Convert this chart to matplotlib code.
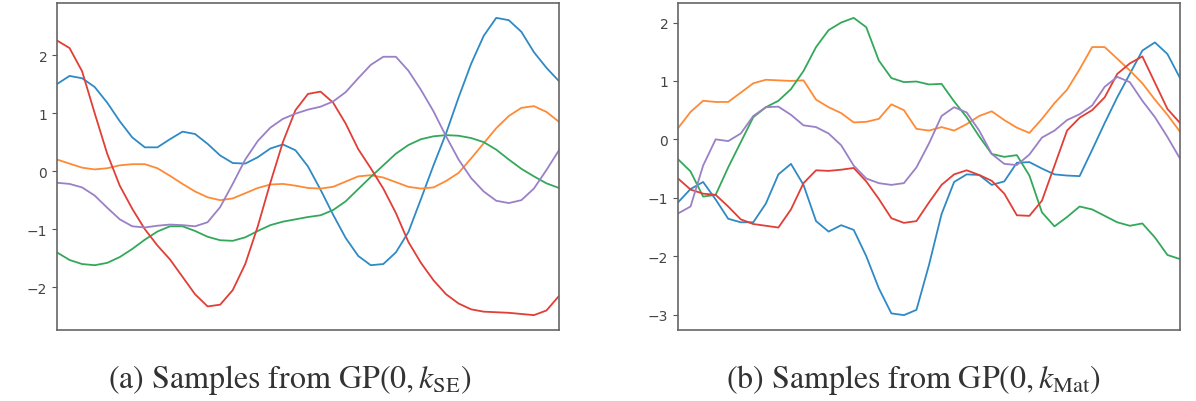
import matplotlib.pyplot as plt
import numpy as np

plt.rcParams['mathtext.fontset'] = 'stix'

# shared horizontal sample positions (no x ticks in the figure)
x = np.arange(0, 100.1, 2.5)

# (a) squared-exponential kernel samples
se_blue = [1.50, 1.64, 1.60, 1.45, 1.18, 0.86, 0.58, 0.41, 0.41, 0.55, 0.68,
           0.64, 0.47, 0.27, 0.14, 0.13, 0.24, 0.39, 0.46, 0.36, 0.08, -0.32,
           -0.75, -1.15, -1.46, -1.62, -1.60, -1.40, -1.05, -0.48, 0.10, 0.65,
           1.27, 1.85, 2.33, 2.64, 2.60, 2.40, 2.05, 1.78, 1.55]
se_orange = [0.20, 0.13, 0.06, 0.03, 0.05, 0.10, 0.12, 0.12, 0.05, -0.08,
             -0.22, -0.35, -0.45, -0.50, -0.47, -0.38, -0.29, -0.23, -0.22,
             -0.25, -0.29, -0.30, -0.27, -0.18, -0.09, -0.07, -0.11, -0.19,
             -0.27, -0.30, -0.28, -0.17, -0.03, 0.22, 0.48, 0.74, 0.95, 1.09,
             1.12, 1.02, 0.85]
se_green = [-1.40, -1.53, -1.60, -1.62, -1.58, -1.48, -1.34, -1.18, -1.04,
            -0.95, -0.95, -1.03, -1.13, -1.19, -1.20, -1.14, -1.03, -0.93,
            -0.87, -0.83, -0.79, -0.76, -0.67, -0.52, -0.31, -0.10, 0.10,
            0.30, 0.45, 0.55, 0.60, 0.62, 0.61, 0.57, 0.50, 0.37, 0.20, 0.04,
            -0.09, -0.21, -0.29]
se_red = [2.25, 2.12, 1.72, 1.00, 0.30, -0.25, -0.65, -1.00, -1.28, -1.52,
          -1.82, -2.12, -2.33, -2.30, -2.05, -1.60, -0.95, -0.20, 0.50, 1.05,
          1.33, 1.37, 1.18, 0.82, 0.38, 0.05, -0.30, -0.72, -1.22, -1.58,
          -1.88, -2.12, -2.28, -2.38, -2.42, -2.43, -2.44, -2.46, -2.48,
          -2.40, -2.15]
se_purple = [-0.20, -0.22, -0.28, -0.42, -0.63, -0.83, -0.95, -0.97, -0.94,
             -0.92, -0.93, -0.95, -0.88, -0.62, -0.22, 0.20, 0.52, 0.75, 0.90,
             0.99, 1.06, 1.11, 1.20, 1.36, 1.60, 1.83, 1.97, 1.97, 1.73, 1.40,
             1.03, 0.60, 0.20, -0.12, -0.35, -0.51, -0.55, -0.50, -0.30, 0.02,
             0.36]

# (b) Matern kernel samples
mat_blue = [-1.08, -0.85, -0.73, -1.03, -1.36, -1.42, -1.42, -1.10, -0.60,
            -0.42, -0.78, -1.40, -1.58, -1.47, -1.55, -2.00, -2.55, -2.98,
            -3.01, -2.92, -2.15, -1.28, -0.73, -0.60, -0.61, -0.78, -0.72,
            -0.40, -0.39, -0.50, -0.60, -0.62, -0.63, -0.18, 0.28, 0.72, 1.12,
            1.52, 1.66, 1.46, 1.05]
mat_orange = [0.19, 0.47, 0.66, 0.64, 0.64, 0.80, 0.96, 1.02, 1.01, 1.00,
              1.01, 0.68, 0.55, 0.45, 0.29, 0.30, 0.35, 0.60, 0.50, 0.18,
              0.15, 0.21, 0.15, 0.26, 0.40, 0.48, 0.33, 0.20, 0.11, 0.35,
              0.62, 0.85, 1.20, 1.58, 1.58, 1.38, 1.18, 0.96, 0.68, 0.42, 0.13]
mat_green = [-0.34, -0.55, -0.98, -0.95, -0.48, -0.05, 0.38, 0.55, 0.66,
             0.86, 1.17, 1.58, 1.87, 2.00, 2.08, 1.92, 1.35, 1.05, 0.98, 0.99,
             0.94, 0.95, 0.65, 0.38, 0.05, -0.25, -0.30, -0.27, -0.62, -1.25,
             -1.49, -1.33, -1.15, -1.20, -1.31, -1.42, -1.48, -1.44, -1.68,
             -1.98, -2.05]
mat_red = [-0.67, -0.86, -0.93, -0.95, -1.15, -1.37, -1.45, -1.48, -1.51,
           -1.20, -0.75, -0.53, -0.54, -0.52, -0.49, -0.72, -1.02, -1.35,
           -1.43, -1.40, -1.08, -0.78, -0.60, -0.53, -0.61, -0.71, -0.93,
           -1.30, -1.31, -1.05, -0.45, 0.15, 0.37, 0.50, 0.72, 1.12, 1.30,
           1.42, 0.97, 0.52, 0.28]
mat_purple = [-1.27, -1.15, -0.45, 0.00, -0.03, 0.10, 0.40, 0.55, 0.56, 0.42,
              0.24, 0.21, 0.10, -0.10, -0.45, -0.67, -0.75, -0.78, -0.75,
              -0.48, -0.07, 0.40, 0.55, 0.46, 0.15, -0.25, -0.42, -0.44,
              -0.26, 0.03, 0.15, 0.33, 0.43, 0.58, 0.90, 1.07, 0.98, 0.66,
              0.38, 0.04, -0.33]

se_yticks = [-2, -1, 0, 1, 2]
mat_yticks = [-3, -2, -1, 0, 1, 2]
captions = [r'(a) Samples from $\mathrm{GP}(0, k_{\mathrm{SE}})$',
            r'(b) Samples from $\mathrm{GP}(0, k_{\mathrm{Mat}})$']

colors = ['#2f8ac4', '#ff8a36', '#34a85a', '#e03e36', '#9a80c6']

fig = plt.figure(figsize=(11.96, 4.02), dpi=100)
ax1 = fig.add_axes([57 / 1196, 1 - 331 / 402, 502 / 1196, 327 / 402])
ax2 = fig.add_axes([678 / 1196, 1 - 331 / 402, 502 / 1196, 327 / 402])

panels = [
    (ax1, [se_blue, se_orange, se_green, se_red, se_purple], se_yticks),
    (ax2, [mat_blue, mat_orange, mat_green, mat_red, mat_purple], mat_yticks),
]
for ax, series, yticks in panels:
    for ys, c in zip(series, colors):
        ax.plot(x, ys, color=c, lw=1.3, solid_joinstyle='round')
    ax.set_xlim(x[0], x[-1])
    ax.set_xticks([])
    ax.set_yticks(yticks)
    ax.tick_params(axis='y', labelsize=10, colors='#555555', labelcolor='#444444')
    for s in ax.spines.values():
        s.set_color('#666666')
        s.set_linewidth(1.2)

fig.text(290 / 1196, 1 - 380 / 402, captions[0], ha='center', va='center',
         fontsize=23, family='STIXGeneral', color='#333333')
fig.text(913 / 1196, 1 - 380 / 402, captions[1], ha='center', va='center',
         fontsize=23, family='STIXGeneral', color='#333333')

fig.savefig('out.png', dpi=100)
